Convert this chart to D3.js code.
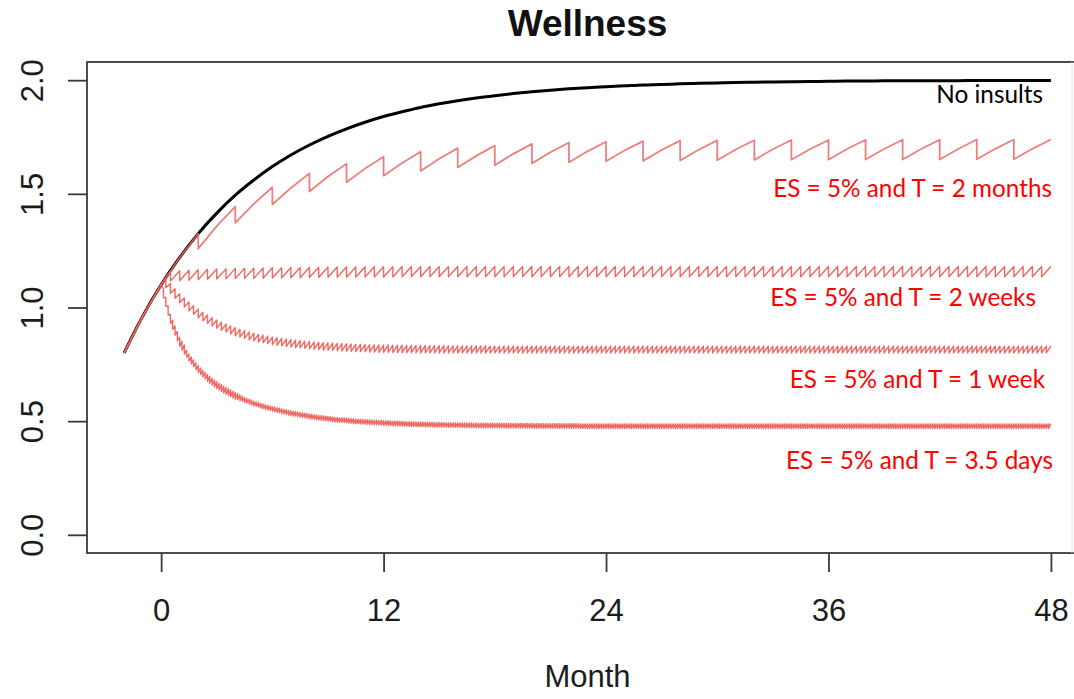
<!DOCTYPE html>
<html><head><meta charset="utf-8">
<script src="https://cdn.jsdelivr.net/npm/d3@7"></script>
<style>body{margin:0;background:#fff}</style>
</head><body>
<svg id="c" width="1074" height="699"></svg>
<script>
// ---------------- DATA ----------------
const chartTitle = "Wellness";
const xAxisTitle = "Month";
const xTicks = [0, 12, 24, 36, 48];
const xTickLabels = ["0", "12", "24", "36", "48"];
const yTicks = [0, 0.5, 1, 1.5, 2];
const yTickLabels = ["0.0", "0.5", "1.0", "1.5", "2.0"];
const seriesNames = ["No insults", "ES = 5% and T = 2 months", "ES = 5% and T = 2 weeks",
                     "ES = 5% and T = 1 week", "ES = 5% and T = 3.5 days"];

// No insults (black), monthly
const noInsultMonths = [-2,-1,0,1,2,3,4,5,6,7,8,9,10,11,12,13,14,15,16,17,18,19,20,21,22,23,24,
  25,26,27,28,29,30,31,32,33,34,35,36,37,38,39,40,41,42,43,44,45,46,47,48];
const noInsultValues = [0.800,0.961,1.100,1.220,1.325,1.415,1.494,1.561,1.620,1.671,1.715,1.753,1.786,
  1.815,1.840,1.861,1.880,1.896,1.910,1.922,1.932,1.941,1.949,1.956,1.962,1.967,1.971,1.975,1.979,
  1.981,1.984,1.986,1.988,1.990,1.991,1.992,1.993,1.994,1.995,1.996,1.996,1.997,1.997,1.998,1.998,
  1.998,1.999,1.999,1.999,1.999,1.999];

// shared start of every insult series (before first insult)
const preMonths = [-2, -1, 0];
const preValues = [0.800, 0.961, 1.100];

// insult periods in months
const periodTwoMonths = 2, periodTwoWeeks = 0.5, periodOneWeek = 0.25, periodHalfWeek = 0.125;

// T = 2 months: value midway between insults, just before insult, just after insult
const twoMonthMids = [1.220,1.358,1.456,1.526,1.576,1.611,1.636,1.654,1.667,1.676,1.683,1.687,
  1.691,1.693,1.694,1.695,1.696,1.696,1.697,1.697,1.697,1.697,1.698,1.698];
const twoMonthPeaks = [1.325,1.444,1.529,1.590,1.632,1.663,1.685,1.701,1.712,1.720,1.726,1.729,
  1.732,1.734,1.735,1.736,1.737,1.737,1.738,1.738,1.738,1.739,1.739,1.739];
const twoMonthTroughs = [1.259,1.372,1.453,1.510,1.551,1.580,1.601,1.616,1.626,1.634,1.639,1.643,
  1.645,1.647,1.648,1.649,1.650,1.650,1.651,1.651,1.651,1.652,1.652];

// T = 2 weeks
const twoWeekPeaks = [
  1.160,1.162,1.164,1.166,1.168,1.169,1.170,1.172,1.173,1.173,
  1.174,1.175,1.175,1.176,1.176,1.177,1.177,1.178,1.178,1.178,
  1.178,1.179,1.179,1.179,1.179,1.180,1.180,1.180,1.180,1.180,
  1.180,1.180,1.180,1.180,1.180,1.180,1.180,1.180,1.180,1.180,
  1.180,1.180,1.180,1.180,1.180,1.180,1.180,1.180,1.180,1.180,
  1.180,1.180,1.180,1.180,1.180,1.180,1.180,1.180,1.180,1.180,
  1.180,1.180,1.180,1.180,1.180,1.180,1.180,1.180,1.180,1.180,
  1.180,1.180,1.180,1.180,1.180,1.180,1.180,1.180,1.180,1.180,
  1.180,1.180,1.180,1.180,1.180,1.180,1.180,1.180,1.180,1.180,
  1.180,1.180,1.180,1.180,1.180,1.180];
const twoWeekTroughs = [
  1.116,1.118,1.120,1.122,1.124,1.125,1.126,1.127,1.128,1.128,
  1.129,1.130,1.130,1.131,1.131,1.132,1.132,1.133,1.133,1.133,
  1.133,1.134,1.134,1.134,1.134,1.135,1.135,1.135,1.135,1.135,
  1.135,1.135,1.135,1.135,1.135,1.135,1.135,1.135,1.135,1.135,
  1.135,1.135,1.135,1.135,1.135,1.135,1.135,1.135,1.135,1.135,
  1.135,1.135,1.135,1.135,1.135,1.135,1.135,1.135,1.135,1.135,
  1.135,1.135,1.135,1.135,1.135,1.135,1.135,1.135,1.135,1.135,
  1.135,1.135,1.135,1.135,1.135,1.135,1.135,1.135,1.135,1.135,
  1.135,1.135,1.135,1.135,1.135,1.135,1.135,1.135,1.135,1.135,
  1.135,1.135,1.135,1.135,1.135];

// T = 1 week
const oneWeekPeaks = [
  1.130,1.105,1.082,1.061,1.042,1.024,1.008,0.993,0.979,0.967,
  0.955,0.945,0.935,0.927,0.919,0.911,0.904,0.898,0.892,0.887,
  0.882,0.878,0.874,0.870,0.867,0.864,0.861,0.859,0.856,0.854,
  0.852,0.850,0.848,0.847,0.845,0.844,0.843,0.842,0.841,0.840,
  0.839,0.838,0.838,0.837,0.836,0.836,0.835,0.835,0.835,0.834,
  0.834,0.834,0.833,0.833,0.833,0.832,0.832,0.832,0.832,0.832,
  0.832,0.831,0.831,0.831,0.831,0.831,0.831,0.831,0.831,0.831,
  0.830,0.830,0.830,0.830,0.830,0.830,0.830,0.830,0.830,0.830,
  0.830,0.830,0.830,0.830,0.830,0.830,0.830,0.830,0.830,0.830,
  0.830,0.830,0.830,0.830,0.830,0.830,0.830,0.830,0.830,0.830,
  0.830,0.830,0.830,0.830,0.830,0.830,0.830,0.830,0.830,0.830,
  0.830,0.830,0.830,0.830,0.830,0.830,0.830,0.830,0.830,0.830,
  0.830,0.830,0.830,0.830,0.830,0.830,0.830,0.830,0.830,0.830,
  0.830,0.830,0.830,0.830,0.830,0.830,0.830,0.830,0.830,0.830,
  0.830,0.830,0.830,0.830,0.830,0.830,0.830,0.830,0.830,0.830,
  0.830,0.830,0.830,0.830,0.830,0.830,0.830,0.830,0.830,0.830,
  0.830,0.830,0.830,0.830,0.830,0.830,0.830,0.830,0.830,0.830,
  0.830,0.830,0.830,0.830,0.830,0.830,0.830,0.830,0.830,0.830,
  0.830,0.830,0.830,0.830,0.830,0.830,0.830,0.830,0.830,0.830,
  0.830,0.830];
const oneWeekTroughs = [
  1.087,1.063,1.041,1.021,1.002,0.985,0.970,0.955,0.942,0.930,
  0.919,0.909,0.899,0.892,0.884,0.876,0.870,0.864,0.858,0.853,
  0.848,0.845,0.841,0.837,0.834,0.831,0.828,0.826,0.823,0.822,
  0.820,0.818,0.816,0.815,0.813,0.812,0.811,0.810,0.809,0.808,
  0.807,0.806,0.806,0.805,0.804,0.804,0.803,0.803,0.803,0.802,
  0.802,0.802,0.801,0.801,0.801,0.800,0.800,0.800,0.800,0.800,
  0.800,0.800,0.800,0.800,0.800,0.800,0.800,0.800,0.800,0.800,
  0.800,0.800,0.800,0.800,0.800,0.800,0.800,0.800,0.800,0.800,
  0.800,0.800,0.800,0.800,0.800,0.800,0.800,0.800,0.800,0.800,
  0.800,0.800,0.800,0.800,0.800,0.800,0.800,0.800,0.800,0.800,
  0.800,0.800,0.800,0.800,0.800,0.800,0.800,0.800,0.800,0.800,
  0.800,0.800,0.800,0.800,0.800,0.800,0.800,0.800,0.800,0.800,
  0.800,0.800,0.800,0.800,0.800,0.800,0.800,0.800,0.800,0.800,
  0.800,0.800,0.800,0.800,0.800,0.800,0.800,0.800,0.800,0.800,
  0.800,0.800,0.800,0.800,0.800,0.800,0.800,0.800,0.800,0.800,
  0.800,0.800,0.800,0.800,0.800,0.800,0.800,0.800,0.800,0.800,
  0.800,0.800,0.800,0.800,0.800,0.800,0.800,0.800,0.800,0.800,
  0.800,0.800,0.800,0.800,0.800,0.800,0.800,0.800,0.800,0.800,
  0.800,0.800,0.800,0.800,0.800,0.800,0.800,0.800,0.800,0.800,
  0.800];

// T = 3.5 days
const halfWeekPeaks = [
  1.082,1.045,1.007,0.969,0.944,0.919,0.894,0.869,0.852,0.835,0.812,0.795,
  0.782,0.770,0.757,0.744,0.734,0.725,0.715,0.705,0.697,0.689,0.681,0.673,
  0.667,0.661,0.654,0.648,0.643,0.638,0.632,0.627,0.621,0.616,0.610,0.605,
  0.600,0.596,0.592,0.588,0.585,0.582,0.578,0.575,0.572,0.570,0.567,0.564,
  0.562,0.559,0.557,0.554,0.552,0.550,0.547,0.545,0.543,0.542,0.540,0.538,
  0.536,0.535,0.533,0.531,0.530,0.528,0.527,0.525,0.524,0.523,0.522,0.521,
  0.520,0.518,0.517,0.516,0.515,0.515,0.514,0.513,0.512,0.511,0.510,0.509,
  0.509,0.508,0.508,0.507,0.506,0.506,0.505,0.504,0.504,0.503,0.503,0.502,
  0.502,0.501,0.501,0.500,0.500,0.500,0.499,0.499,0.498,0.498,0.497,0.497,
  0.497,0.496,0.496,0.496,0.496,0.495,0.495,0.495,0.495,0.494,0.494,0.494,
  0.494,0.494,0.493,0.493,0.493,0.493,0.493,0.493,0.493,0.492,0.492,0.492,
  0.492,0.492,0.491,0.491,0.491,0.491,0.491,0.491,0.491,0.491,0.491,0.491,
  0.491,0.491,0.491,0.490,0.490,0.490,0.490,0.490,0.490,0.490,0.490,0.490,
  0.490,0.490,0.490,0.490,0.489,0.489,0.489,0.489,0.489,0.489,0.489,0.489,
  0.489,0.489,0.489,0.489,0.489,0.489,0.489,0.489,0.489,0.489,0.489,0.489,
  0.488,0.488,0.488,0.488,0.488,0.488,0.488,0.488,0.488,0.488,0.488,0.488,
  0.488,0.488,0.488,0.488,0.488,0.488,0.488,0.488,0.488,0.488,0.488,0.488,
  0.488,0.488,0.488,0.488,0.488,0.488,0.488,0.488,0.488,0.488,0.488,0.488,
  0.488,0.488,0.488,0.488,0.488,0.488,0.488,0.488,0.488,0.488,0.488,0.488,
  0.488,0.488,0.488,0.488,0.488,0.488,0.488,0.488,0.488,0.488,0.488,0.488,
  0.488,0.488,0.488,0.488,0.488,0.488,0.488,0.488,0.488,0.488,0.488,0.488,
  0.488,0.488,0.488,0.488,0.488,0.488,0.488,0.488,0.488,0.488,0.488,0.488,
  0.488,0.488,0.488,0.488,0.488,0.488,0.488,0.488,0.488,0.488,0.488,0.488,
  0.488,0.488,0.488,0.488,0.488,0.488,0.488,0.488,0.488,0.488,0.488,0.488,
  0.488,0.488,0.488,0.488,0.488,0.488,0.488,0.488,0.488,0.488,0.488,0.488,
  0.488,0.488,0.488,0.488,0.488,0.488,0.488,0.488,0.488,0.488,0.488,0.488,
  0.488,0.488,0.488,0.488,0.488,0.488,0.488,0.488,0.488,0.488,0.488,0.488,
  0.488,0.488,0.488,0.488,0.488,0.488,0.488,0.488,0.488,0.488,0.488,0.488,
  0.488,0.488,0.488,0.488,0.488,0.488,0.488,0.488,0.488,0.488,0.488,0.488,
  0.488,0.488,0.488,0.488,0.488,0.488,0.488,0.488,0.488,0.488,0.488,0.488,
  0.488,0.488,0.488,0.488,0.488,0.488,0.488,0.488,0.488,0.488,0.488,0.488,
  0.488,0.488,0.488,0.488,0.488,0.488,0.488,0.488,0.488,0.488,0.488,0.488];
const halfWeekTroughs = [
  1.042,1.005,0.967,0.929,0.904,0.879,0.854,0.829,0.812,0.795,0.782,0.765,
  0.752,0.740,0.727,0.714,0.704,0.695,0.685,0.675,0.667,0.659,0.651,0.643,
  0.637,0.631,0.624,0.618,0.613,0.608,0.602,0.597,0.595,0.590,0.588,0.583,
  0.580,0.576,0.572,0.568,0.565,0.562,0.558,0.555,0.552,0.550,0.547,0.544,
  0.542,0.539,0.537,0.534,0.532,0.530,0.527,0.525,0.523,0.522,0.520,0.518,
  0.516,0.515,0.513,0.511,0.510,0.508,0.507,0.505,0.504,0.503,0.502,0.501,
  0.500,0.498,0.497,0.496,0.495,0.495,0.494,0.493,0.492,0.491,0.490,0.489,
  0.489,0.488,0.488,0.487,0.486,0.486,0.485,0.484,0.484,0.483,0.483,0.482,
  0.482,0.481,0.481,0.480,0.480,0.480,0.479,0.479,0.478,0.478,0.477,0.477,
  0.477,0.476,0.476,0.476,0.476,0.475,0.475,0.475,0.475,0.474,0.474,0.474,
  0.474,0.474,0.473,0.473,0.473,0.473,0.473,0.473,0.473,0.472,0.472,0.472,
  0.472,0.472,0.471,0.471,0.471,0.471,0.471,0.471,0.471,0.471,0.471,0.471,
  0.471,0.471,0.471,0.470,0.470,0.470,0.470,0.470,0.470,0.470,0.470,0.470,
  0.470,0.470,0.470,0.470,0.469,0.469,0.469,0.469,0.469,0.469,0.469,0.469,
  0.469,0.469,0.469,0.469,0.469,0.469,0.469,0.469,0.469,0.469,0.469,0.469,
  0.468,0.468,0.468,0.468,0.468,0.468,0.468,0.468,0.468,0.468,0.468,0.468,
  0.468,0.468,0.468,0.468,0.468,0.468,0.468,0.468,0.468,0.468,0.468,0.468,
  0.468,0.468,0.468,0.468,0.468,0.468,0.468,0.468,0.468,0.468,0.468,0.468,
  0.468,0.468,0.468,0.468,0.468,0.468,0.468,0.468,0.468,0.468,0.468,0.468,
  0.468,0.468,0.468,0.468,0.468,0.468,0.468,0.468,0.468,0.468,0.468,0.468,
  0.468,0.468,0.468,0.468,0.468,0.468,0.468,0.468,0.468,0.468,0.468,0.468,
  0.468,0.468,0.468,0.468,0.468,0.468,0.468,0.468,0.468,0.468,0.468,0.468,
  0.468,0.468,0.468,0.468,0.468,0.468,0.468,0.468,0.468,0.468,0.468,0.468,
  0.468,0.468,0.468,0.468,0.468,0.468,0.468,0.468,0.468,0.468,0.468,0.468,
  0.468,0.468,0.468,0.468,0.468,0.468,0.468,0.468,0.468,0.468,0.468,0.468,
  0.468,0.468,0.468,0.468,0.468,0.468,0.468,0.468,0.468,0.468,0.468,0.468,
  0.468,0.468,0.468,0.468,0.468,0.468,0.468,0.468,0.468,0.468,0.468,0.468,
  0.468,0.468,0.468,0.468,0.468,0.468,0.468,0.468,0.468,0.468,0.468,0.468,
  0.468,0.468,0.468,0.468,0.468,0.468,0.468,0.468,0.468,0.468,0.468,0.468,
  0.468,0.468,0.468,0.468,0.468,0.468,0.468,0.468,0.468,0.468,0.468,0.468,
  0.468,0.468,0.468,0.468,0.468,0.468,0.468,0.468,0.468,0.468,0.468,0.468,
  0.468,0.468,0.468,0.468,0.468,0.468,0.468,0.468,0.468,0.468,0.468];

// ---------------- DRAWING ----------------
const svg = d3.select("#c");
const pLeft = 87, pRight = 1088, pTop = 62, pBottom = 553;
const x = d3.scaleLinear().domain([-4, 50]).range([pLeft, pRight]);
const y = d3.scaleLinear().domain([-0.08, 2.08]).range([pBottom, pTop]);

svg.append("rect").attr("width", 1074).attr("height", 699).attr("fill", "#fff");
svg.append("clipPath").attr("id", "plot").append("rect")
  .attr("x", pLeft).attr("y", pTop).attr("width", pRight - pLeft).attr("height", pBottom - pTop);

const gPlot = svg.append("g").attr("clip-path", "url(#plot)");

function sawPoints(period, peaks, troughs, mids) {
  const pts = preMonths.map((m, i) => ({ t: m, v: preValues[i] }));
  peaks.forEach((p, i) => {
    const t = (i + 1) * period;
    if (mids) pts.push({ t: t - period / 2, v: mids[i] });
    pts.push({ t: t, v: p });
    if (i < troughs.length) pts.push({ t: t, v: troughs[i] });
  });
  return pts;
}

const blackPts = noInsultMonths.map((m, i) => ({ t: m, v: noInsultValues[i] }));
const smooth = d3.line().x(d => x(d.t)).y(d => y(d.v)).curve(d3.curveMonotoneX);
const straight = d3.line().x(d => x(d.t)).y(d => y(d.v));

gPlot.append("path").attr("d", smooth(blackPts))
  .attr("fill", "none").attr("stroke", "#000").attr("stroke-width", 3);

const redSeries = [
  sawPoints(periodHalfWeek, halfWeekPeaks, halfWeekTroughs),
  sawPoints(periodOneWeek, oneWeekPeaks, oneWeekTroughs),
  sawPoints(periodTwoWeeks, twoWeekPeaks, twoWeekTroughs),
  sawPoints(periodTwoMonths, twoMonthPeaks, twoMonthTroughs, twoMonthMids)
];
redSeries.forEach((pts, i) => {
  gPlot.append("path").attr("d", straight(pts))
    .attr("fill", "none")
    .attr("stroke", i === 3 ? "#ea6a66" : "#ec4f46")
    .attr("stroke-width", i === 3 ? 1.8 : 1.4)
    .attr("stroke-opacity", 0.85)
    .attr("stroke-linejoin", "round");
});

// box
svg.append("rect").attr("x", pLeft).attr("y", pTop).attr("width", pRight - pLeft).attr("height", pBottom - pTop)
  .attr("fill", "none").attr("stroke", "#3a3a3a").attr("stroke-width", 1.8);
svg.append("line").attr("x1", 1072).attr("x2", 1072).attr("y1", pTop).attr("y2", pBottom)
  .attr("stroke", "#e2e2e2").attr("stroke-width", 1);

const fontAxis = "'Liberation Sans', Arial, Helvetica, sans-serif";

// x axis
const gx = svg.append("g").attr("transform", `translate(0,${pBottom})`)
  .call(d3.axisBottom(x).tickValues(xTicks).tickFormat((d, i) => xTickLabels[i])
    .tickSize(19).tickPadding(27));
gx.select(".domain").remove();
gx.selectAll("line").attr("stroke", "#3a3a3a").attr("stroke-width", 1.8);
gx.selectAll("text").attr("font-size", 31).attr("font-family", fontAxis).attr("fill", "#1c1c1c");

// y axis
const gy = svg.append("g").attr("transform", `translate(${pLeft},0)`)
  .call(d3.axisLeft(y).tickValues(yTicks).tickFormat((d, i) => yTickLabels[i]).tickSize(19));
gy.select(".domain").remove();
gy.selectAll("line").attr("stroke", "#3a3a3a").attr("stroke-width", 1.8);
gy.selectAll("text")
  .attr("x", 0).attr("dy", null).attr("text-anchor", "middle")
  .attr("transform", "translate(-44,0) rotate(-90)")
  .attr("font-size", 31).attr("font-family", fontAxis).attr("fill", "#1c1c1c");

// title and axis title
svg.append("text").attr("x", (pLeft + pRight) / 2).attr("y", 36).attr("text-anchor", "middle")
  .attr("font-family", fontAxis).attr("font-weight", "bold").attr("font-size", 37)
  .attr("fill", "#111").text(chartTitle);
svg.append("text").attr("x", (pLeft + pRight) / 2).attr("y", 687).attr("text-anchor", "middle")
  .attr("font-family", fontAxis).attr("font-size", 31).attr("fill", "#1c1c1c").text(xAxisTitle);

// annotations (right aligned)
const annLayout = [
  { x: 1043, y: 103, color: "#000" },
  { x: 1052, y: 197, color: "#ff0000" },
  { x: 1036, y: 306, color: "#ff0000" },
  { x: 1045, y: 388, color: "#ff0000" },
  { x: 1053, y: 469, color: "#ff0000" }
];
const annFont = "Lato, 'Open Sans', sans-serif";
const probe = svg.append("text").attr("font-family", annFont).attr("font-size", 24).text(seriesNames[1]);
const probeW = probe.node().getComputedTextLength();
probe.remove();
const annSize = 24 * 279 / probeW;
seriesNames.forEach((name, i) => {
  svg.append("text").attr("x", annLayout[i].x).attr("y", annLayout[i].y)
    .attr("text-anchor", "end").attr("font-family", annFont).attr("font-size", annSize)
    .attr("fill", annLayout[i].color).text(name);
});
</script>
</body></html>
